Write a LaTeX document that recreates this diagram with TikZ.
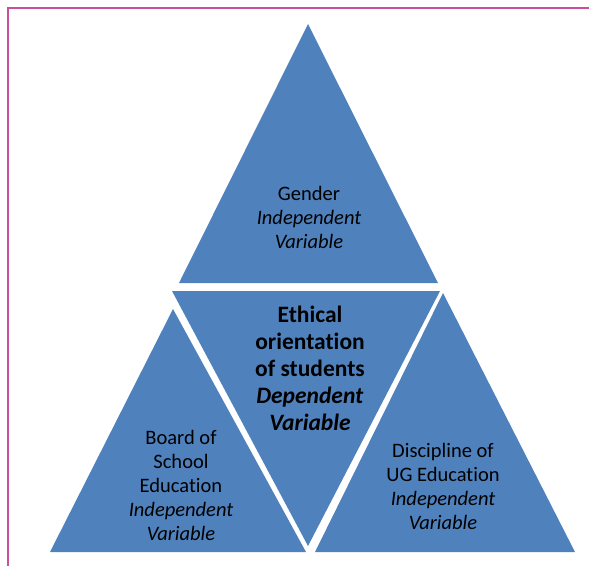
\documentclass[tikz,border=0pt]{standalone}
\usepackage{fontspec}
\setmainfont[Ligatures=NoCommon]{Carlito}

\definecolor{triblue}{RGB}{79,129,189}
\definecolor{framepink}{RGB}{204,76,158}

\tikzset{
  tri/.style={fill=triblue},
  varlabel/.style={align=center, text=black, font=\fontsize{20.5}{24}\selectfont},
  mainlabel/.style={align=center, text=black, font=\bfseries\fontsize{23.5}{27}\selectfont},
}

\begin{document}
\begin{tikzpicture}[x=1pt,y=-1pt]
    \useasboundingbox (0,0) rectangle (589,566);

    % frame
    \draw[framepink, line width=1.2pt] (8,566) -- (8,8) -- (589,8);

    % corners
    \coordinate (gtop) at (308,24);
    \coordinate (gl) at (179,283);
    \coordinate (gr) at (438,283);

    \coordinate (el) at (172,291);
    \coordinate (er) at (440,291);
    \coordinate (ebot) at (308,546);

    \coordinate (btop) at (173,309);
    \coordinate (bl) at (50,552);
    \coordinate (br) at (306,552);

    \coordinate (dtop) at (443,293);
    \coordinate (dl) at (315,552);
    \coordinate (dr) at (575,552);

    % the four triangles
    \fill[tri] (gtop) -- (gr) -- (gl) -- cycle;
    \fill[tri] (el) -- (er) -- (ebot) -- cycle;
    \fill[tri] (btop) -- (br) -- (bl) -- cycle;
    \fill[tri] (dtop) -- (dr) -- (dl) -- cycle;

    % texts
    \node[varlabel] (gender) at (309,217) {Gender\\\textit{Independent}\\\textit{Variable}};
    \node[mainlabel] (ethics) at (310,368) {Ethical\\orientation\\of students\\\textit{Dependent}\\\textit{Variable}};
    \node[varlabel] (board) at (181,485) {Board of\\School\\Education\\\textit{Independent}\\\textit{Variable}};
    \node[varlabel] (discipline) at (443,486) {Discipline of\\UG Education\\\textit{Independent}\\\textit{Variable}};

\end{tikzpicture}
\end{document}
